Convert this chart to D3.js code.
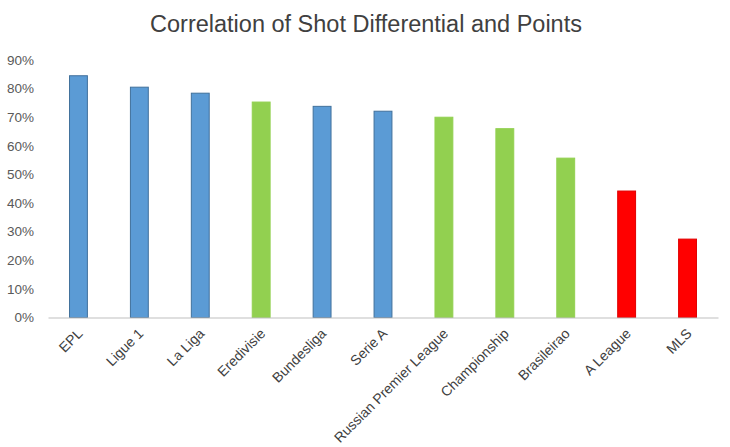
<!DOCTYPE html>
<html lang="en">
<head>
<meta charset="utf-8">
<title>Shot differential</title>
<script src="https://cdn.jsdelivr.net/npm/d3@7"></script>
<style>
body { margin: 0; background: #fff; }
text { font-family: "Liberation Sans", Arial, sans-serif; }
</style>
</head>
<body>
<script>
var w = 730;
var h = 447;

// data
var leagues = ["EPL", "Ligue 1", "La Liga", "Eredivisie", "Bundesliga", "Serie A",
  "Russian Premier League", "Championship", "Brasileirao", "A League", "MLS"];
var correlation = [0.845, 0.805, 0.784, 0.753, 0.738, 0.721, 0.700, 0.660, 0.557, 0.442, 0.274];
var group = ["blue", "blue", "blue", "green", "blue", "blue", "green", "green", "green", "red", "red"];
var yTicks = [0, 0.1, 0.2, 0.3, 0.4, 0.5, 0.6, 0.7, 0.8, 0.9];

var fills = { blue: "#5b9bd5", green: "#92d050", red: "#ff0000" };
var strokes = { blue: "#41719c", green: "#92d050", red: "#e00000" };

var plotLeft = 48, plotRight = 718, plotTop = 60, plotBottom = 317.5;

var xScale = d3.scaleBand()
  .domain(leagues)
  .range([plotLeft, plotRight])
  .paddingInner(0.69)
  .paddingOuter(0.345);

var yScale = d3.scaleLinear()
  .domain([0, 0.9])
  .range([plotBottom, plotTop]);

var svg = d3.select("body").append("svg")
  .attr("width", w)
  .attr("height", h);

svg.append("text")
  .attr("x", 366)
  .attr("y", 32)
  .attr("text-anchor", "middle")
  .attr("font-size", "23.5px")
  .attr("fill", "#404040")
  .text("Correlation of Shot Differential and Points");

// y axis, labels only
var yAxis = d3.axisLeft(yScale)
  .tickValues(yTicks)
  .tickFormat(d3.format(".0%"))
  .tickSize(0)
  .tickPadding(14);

var gy = svg.append("g")
  .attr("transform", "translate(" + plotLeft + ",0)")
  .call(yAxis);
gy.select(".domain").remove();
gy.selectAll("text")
  .attr("font-family", "Liberation Sans, Arial, sans-serif")
  .attr("font-size", "13.5px")
  .attr("fill", "#595959");

var data = leagues.map(function (d, i) {
  return { name: d, value: correlation[i], group: group[i] };
});

svg.selectAll("rect.bar")
  .data(data)
  .enter()
  .append("rect")
  .attr("class", "bar")
  .attr("x", function (d) { return xScale(d.name) + 0.5; })
  .attr("y", function (d) { return yScale(d.value); })
  .attr("width", xScale.bandwidth() - 1)
  .attr("height", function (d) { return plotBottom - yScale(d.value); })
  .attr("fill", function (d) { return fills[d.group]; })
  .attr("stroke", function (d) { return strokes[d.group]; })
  .attr("stroke-width", 1);

// x axis
var xAxis = d3.axisBottom(xScale)
  .tickSize(0)
  .tickPadding(0);

var gx = svg.append("g")
  .attr("transform", "translate(0," + plotBottom + ")")
  .call(xAxis);
gx.select(".domain")
  .attr("stroke", "#bfbfbf")
  .attr("stroke-width", 1);
gx.selectAll("text")
  .attr("font-family", "Liberation Sans, Arial, sans-serif")
  .attr("font-size", "14px")
  .attr("fill", "#404040")
  .attr("text-anchor", "end")
  .attr("dy", 0)
  .attr("transform", "translate(5,17) rotate(-45)");
</script>
</body>
</html>
